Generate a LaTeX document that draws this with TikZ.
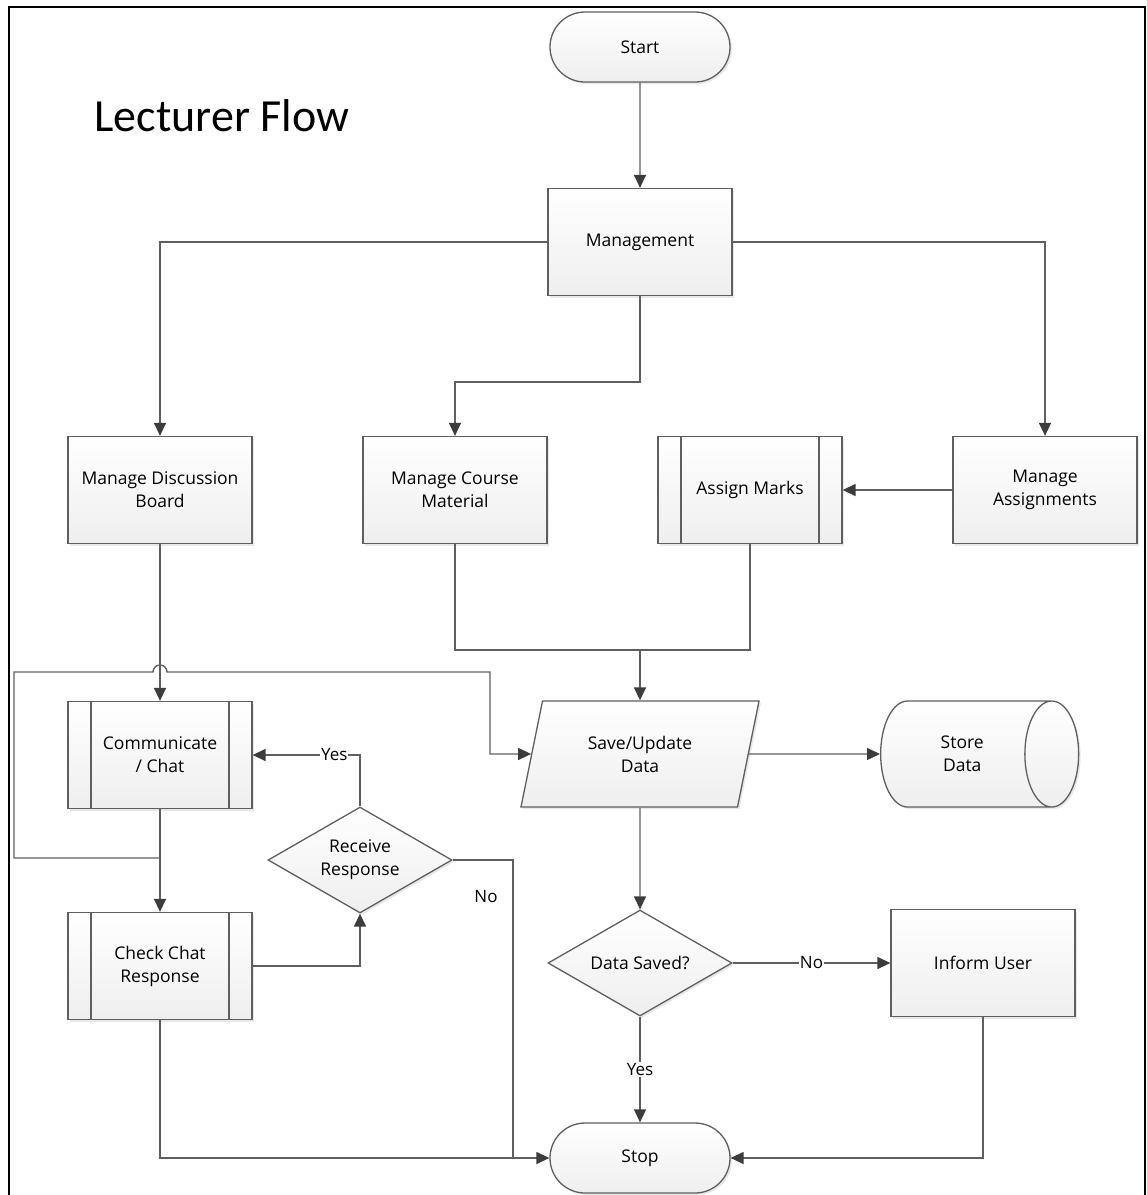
\documentclass[tikz,border=0pt]{standalone}
\usepackage{fontspec}
\setmainfont{Open Sans}
\newfontfamily\titlefont{Carlito}
\usetikzlibrary{arrows.meta,shapes.geometric,shapes.misc,shadows}

\definecolor{edgegray}{RGB}{95,95,95}
\definecolor{tipgray}{RGB}{60,60,60}

\tikzset{
    box/.style={draw=edgegray, line width=1.3pt, top color=white, bottom color=gray!13,
        drop shadow={shadow xshift=2pt, shadow yshift=-2pt, opacity=0.18, fill=gray},
        font=\fontsize{17.5}{23}\selectfont, align=center, inner sep=2pt},
    proc/.style={box, rectangle, minimum width=184pt, minimum height=107pt},
    subproc/.style={proc, path picture={
        \draw[edgegray, line width=1.3pt]
            ([xshift=23pt]path picture bounding box.north west) -- ([xshift=23pt]path picture bounding box.south west)
            ([xshift=-23pt]path picture bounding box.north east) -- ([xshift=-23pt]path picture bounding box.south east);}},
    term/.style={box, rounded rectangle, minimum width=184pt, minimum height=70pt},
    io/.style={box, trapezium, trapezium left angle=62, trapezium right angle=118,
        trapezium stretches body, minimum width=238pt, minimum height=106pt},
    decide/.style={box, diamond, aspect=1.74, minimum width=184pt, minimum height=106pt, inner sep=0pt},
    % cylinder sizes are taken along its axis
    store/.style={box, cylinder, shape aspect=1.35, minimum height=198pt, minimum width=106pt},
    line/.style={draw=edgegray, line width=1.4pt},
    arr/.style={line, -{Triangle[length=13pt, width=12pt, color=tipgray]}},
    lbl/.style={fill=white, inner sep=1pt, font=\fontsize{17}{20}\selectfont}
}

\begin{document}
\begin{tikzpicture}[x=1pt, y=-1pt]
    \useasboundingbox (0,0) rectangle (1147,1195);
    \draw[line width=2.2pt] (9,1195) -- (9,7) -- (1145,7) -- (1145,1195);

    \node[font=\titlefont\fontsize{46}{54}\selectfont, anchor=base west] (title) at (91,131) {Lecturer Flow};

    % shapes
    \node[term] (start) at (640,47) {Start};
    \node[proc] (mgmt) at (640,242) {Management};
    \node[proc] (board) at (160,490) {Manage Discussion\\Board};
    \node[proc] (course) at (455,490) {Manage Course\\Material};
    \node[subproc] (marks) at (750,490) {Assign Marks};
    \node[proc] (assign) at (1045,490) {Manage\\Assignments};
    \node[io] (save) at (640,754) {Save/Update\\Data};
    \node[store, anchor=west] (store) at (880,754) {Store\\Data};
    \node[subproc] (chat) at (160,755) {Communicate\\/ Chat};
    \node[decide] (resp) at (360,860) {Receive\\Response};
    \node[subproc] (check) at (160,966) {Check Chat\\Response};
    \node[decide] (saved) at (640,963) {Data Saved?};
    \node[proc] (inform) at (983,963) {Inform User};
    \node[term] (stop) at (640,1158) {Stop};

    \coordinate (merge) at (640,650);
    \coordinate (split) at (160,858);
    \coordinate (join) at (513,1158);

    % connectors
    \draw[arr] (start) -- (mgmt);
    \draw[arr] (mgmt.west) -| (board);
    \draw[arr] (mgmt.east) -| (assign);
    \draw[arr] (mgmt.south) -- ++(0,86) -| (course);
    \draw[arr] (assign) -- (marks);
    \draw[line] (course) |- (merge);
    \draw[line] (marks) |- (merge);
    \draw[arr] (merge) -- (save);
    \draw[arr] (board) -- (chat);
    \draw[arr] (chat) -- (check);
    \draw[arr] (split) -| (14,672) -- (153,672) arc[start angle=180, end angle=0, radius=7pt]
        -- (490,672) |- (save);
    \draw[arr] (check.east) -| (resp);
    \draw[arr] (resp.north) |- node[lbl, pos=0.62] {Yes} (chat.east);
    \draw[arr] (resp.east) -| (join) -- (stop);
    \node[font=\fontsize{17}{20}\selectfont] (no1) at (486,897) {No};
    \draw[line] (check) |- (join);
    \draw[arr] (save) -- (store);
    \draw[arr] (save) -- (saved);
    \draw[arr] (saved) -- node[lbl] {No} (inform);
    \draw[arr] (saved) -- node[lbl] {Yes} (stop);
    \draw[arr] (inform) |- (stop);
\end{tikzpicture}
\end{document}
